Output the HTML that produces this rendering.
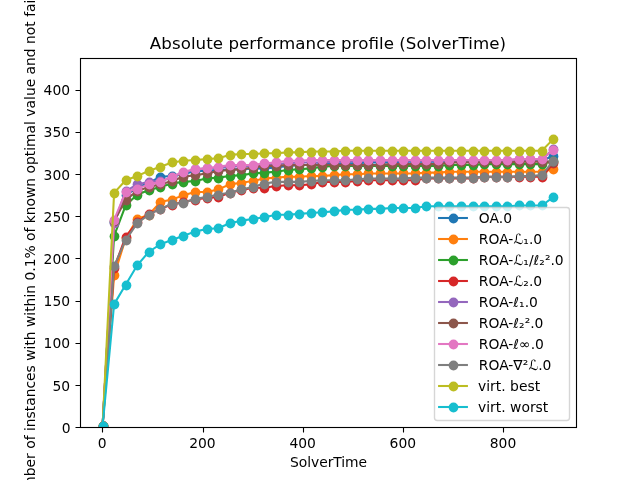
<!DOCTYPE html>
<html lang="en"><head><meta charset="utf-8"><title>Absolute performance profile (SolverTime)</title>
<style>html,body{margin:0;padding:0;background:#fff;overflow:hidden}svg{display:block}text{font-family:"DejaVu Sans","Liberation Sans",sans-serif;font-size:13.889px;fill:#000}.t{font-size:16.667px}.m{text-anchor:middle}.e{text-anchor:end}.ln{fill:none;stroke-width:2.0833;stroke-linejoin:round;stroke-linecap:square}.tk{stroke:#000;stroke-width:1.111;fill:none}</style></head><body>
<svg width="640" height="480" viewBox="0 0 640 480">
<rect x="0" y="0" width="640" height="480" fill="#fff"/>
<clipPath id="ax"><rect x="80.00" y="57.60" width="496.00" height="369.60"/></clipPath>
<g clip-path="url(#ax)">
<g fill="#1f77b4" stroke="#1f77b4"><polyline class="ln" points="102.55,426.36 114.11,222.34 125.67,195.36 137.23,187.77 148.79,182.71 160.35,176.81 171.92,175.97 183.48,174.28 195.04,170.91 206.60,170.91 218.16,170.06 229.72,169.22 241.29,169.22 252.85,168.38 264.41,168.38 275.97,167.54 287.53,165.85 299.10,165.01 310.66,165.01 322.22,164.16 333.78,164.16 345.34,163.32 356.90,163.32 368.47,162.48 380.03,162.48 391.59,162.48 403.15,161.63 414.71,161.63 426.28,161.63 437.84,161.63 449.40,161.63 460.96,161.63 472.52,161.63 484.08,161.63 495.65,161.63 507.21,161.63 518.77,160.79 530.33,160.79 541.89,160.79 553.45,155.73"/>
<g stroke="none"><circle cx="103.5" cy="426.5" r="4.880"/><circle cx="114.5" cy="222.5" r="4.880"/><circle cx="126.5" cy="195.5" r="4.880"/><circle cx="137.5" cy="188.5" r="4.880"/><circle cx="149.5" cy="183.5" r="4.880"/><circle cx="160.5" cy="177.5" r="4.880"/><circle cx="172.5" cy="176.5" r="4.880"/><circle cx="183.5" cy="174.5" r="4.880"/><circle cx="195.5" cy="171.5" r="4.880"/><circle cx="207.5" cy="171.5" r="4.880"/><circle cx="218.5" cy="170.5" r="4.880"/><circle cx="230.5" cy="169.5" r="4.880"/><circle cx="241.5" cy="169.5" r="4.880"/><circle cx="253.5" cy="168.5" r="4.880"/><circle cx="264.5" cy="168.5" r="4.880"/><circle cx="276.5" cy="168.5" r="4.880"/><circle cx="288.5" cy="166.5" r="4.880"/><circle cx="299.5" cy="165.5" r="4.880"/><circle cx="311.5" cy="165.5" r="4.880"/><circle cx="322.5" cy="164.5" r="4.880"/><circle cx="334.5" cy="164.5" r="4.880"/><circle cx="345.5" cy="163.5" r="4.880"/><circle cx="357.5" cy="163.5" r="4.880"/><circle cx="368.5" cy="162.5" r="4.880"/><circle cx="380.5" cy="162.5" r="4.880"/><circle cx="392.5" cy="162.5" r="4.880"/><circle cx="403.5" cy="162.5" r="4.880"/><circle cx="415.5" cy="162.5" r="4.880"/><circle cx="426.5" cy="162.5" r="4.880"/><circle cx="438.5" cy="162.5" r="4.880"/><circle cx="449.5" cy="162.5" r="4.880"/><circle cx="461.5" cy="162.5" r="4.880"/><circle cx="473.5" cy="162.5" r="4.880"/><circle cx="484.5" cy="162.5" r="4.880"/><circle cx="496.5" cy="162.5" r="4.880"/><circle cx="507.5" cy="162.5" r="4.880"/><circle cx="519.5" cy="161.5" r="4.880"/><circle cx="530.5" cy="161.5" r="4.880"/><circle cx="542.5" cy="161.5" r="4.880"/><circle cx="553.5" cy="156.5" r="4.880"/></g></g>
<g fill="#ff7f0e" stroke="#ff7f0e"><polyline class="ln" points="102.55,426.36 114.11,275.45 125.67,238.35 137.23,218.96 148.79,214.75 160.35,202.10 171.92,199.57 183.48,195.36 195.04,191.98 206.60,191.98 218.16,189.46 229.72,184.40 241.29,182.71 252.85,181.02 264.41,178.50 275.97,177.65 287.53,176.81 299.10,176.81 310.66,175.97 322.22,175.97 333.78,175.12 345.34,174.28 356.90,174.28 368.47,173.44 380.03,173.44 391.59,173.44 403.15,173.44 414.71,173.44 426.28,172.59 437.84,172.59 449.40,171.75 460.96,171.75 472.52,171.75 484.08,171.75 495.65,171.75 507.21,171.75 518.77,171.75 530.33,171.75 541.89,171.75 553.45,169.22"/>
<g stroke="none"><circle cx="103.5" cy="426.5" r="4.880"/><circle cx="114.5" cy="275.5" r="4.880"/><circle cx="126.5" cy="238.5" r="4.880"/><circle cx="137.5" cy="219.5" r="4.880"/><circle cx="149.5" cy="215.5" r="4.880"/><circle cx="160.5" cy="202.5" r="4.880"/><circle cx="172.5" cy="200.5" r="4.880"/><circle cx="183.5" cy="195.5" r="4.880"/><circle cx="195.5" cy="192.5" r="4.880"/><circle cx="207.5" cy="192.5" r="4.880"/><circle cx="218.5" cy="189.5" r="4.880"/><circle cx="230.5" cy="184.5" r="4.880"/><circle cx="241.5" cy="183.5" r="4.880"/><circle cx="253.5" cy="181.5" r="4.880"/><circle cx="264.5" cy="178.5" r="4.880"/><circle cx="276.5" cy="178.5" r="4.880"/><circle cx="288.5" cy="177.5" r="4.880"/><circle cx="299.5" cy="177.5" r="4.880"/><circle cx="311.5" cy="176.5" r="4.880"/><circle cx="322.5" cy="176.5" r="4.880"/><circle cx="334.5" cy="175.5" r="4.880"/><circle cx="345.5" cy="174.5" r="4.880"/><circle cx="357.5" cy="174.5" r="4.880"/><circle cx="368.5" cy="173.5" r="4.880"/><circle cx="380.5" cy="173.5" r="4.880"/><circle cx="392.5" cy="173.5" r="4.880"/><circle cx="403.5" cy="173.5" r="4.880"/><circle cx="415.5" cy="173.5" r="4.880"/><circle cx="426.5" cy="173.5" r="4.880"/><circle cx="438.5" cy="173.5" r="4.880"/><circle cx="449.5" cy="172.5" r="4.880"/><circle cx="461.5" cy="172.5" r="4.880"/><circle cx="473.5" cy="172.5" r="4.880"/><circle cx="484.5" cy="172.5" r="4.880"/><circle cx="496.5" cy="172.5" r="4.880"/><circle cx="507.5" cy="172.5" r="4.880"/><circle cx="519.5" cy="172.5" r="4.880"/><circle cx="530.5" cy="172.5" r="4.880"/><circle cx="542.5" cy="172.5" r="4.880"/><circle cx="553.5" cy="169.5" r="4.880"/></g></g>
<g fill="#2ca02c" stroke="#2ca02c"><polyline class="ln" points="102.55,426.36 114.11,235.82 125.67,205.47 137.23,194.51 148.79,190.30 160.35,186.93 171.92,183.55 183.48,181.87 195.04,181.02 206.60,178.50 218.16,177.65 229.72,175.97 241.29,175.12 252.85,173.44 264.41,172.59 275.97,171.75 287.53,170.06 299.10,169.22 310.66,168.38 322.22,166.69 333.78,165.85 345.34,165.85 356.90,165.85 368.47,165.85 380.03,165.85 391.59,165.85 403.15,165.85 414.71,165.85 426.28,165.85 437.84,165.85 449.40,165.01 460.96,165.01 472.52,165.01 484.08,164.16 495.65,164.16 507.21,164.16 518.77,164.16 530.33,164.16 541.89,164.16 553.45,160.79"/>
<g stroke="none"><circle cx="103.5" cy="426.5" r="4.880"/><circle cx="114.5" cy="236.5" r="4.880"/><circle cx="126.5" cy="205.5" r="4.880"/><circle cx="137.5" cy="195.5" r="4.880"/><circle cx="149.5" cy="190.5" r="4.880"/><circle cx="160.5" cy="187.5" r="4.880"/><circle cx="172.5" cy="184.5" r="4.880"/><circle cx="183.5" cy="182.5" r="4.880"/><circle cx="195.5" cy="181.5" r="4.880"/><circle cx="207.5" cy="178.5" r="4.880"/><circle cx="218.5" cy="178.5" r="4.880"/><circle cx="230.5" cy="176.5" r="4.880"/><circle cx="241.5" cy="175.5" r="4.880"/><circle cx="253.5" cy="173.5" r="4.880"/><circle cx="264.5" cy="173.5" r="4.880"/><circle cx="276.5" cy="172.5" r="4.880"/><circle cx="288.5" cy="170.5" r="4.880"/><circle cx="299.5" cy="169.5" r="4.880"/><circle cx="311.5" cy="168.5" r="4.880"/><circle cx="322.5" cy="167.5" r="4.880"/><circle cx="334.5" cy="166.5" r="4.880"/><circle cx="345.5" cy="166.5" r="4.880"/><circle cx="357.5" cy="166.5" r="4.880"/><circle cx="368.5" cy="166.5" r="4.880"/><circle cx="380.5" cy="166.5" r="4.880"/><circle cx="392.5" cy="166.5" r="4.880"/><circle cx="403.5" cy="166.5" r="4.880"/><circle cx="415.5" cy="166.5" r="4.880"/><circle cx="426.5" cy="166.5" r="4.880"/><circle cx="438.5" cy="166.5" r="4.880"/><circle cx="449.5" cy="165.5" r="4.880"/><circle cx="461.5" cy="165.5" r="4.880"/><circle cx="473.5" cy="165.5" r="4.880"/><circle cx="484.5" cy="164.5" r="4.880"/><circle cx="496.5" cy="164.5" r="4.880"/><circle cx="507.5" cy="164.5" r="4.880"/><circle cx="519.5" cy="164.5" r="4.880"/><circle cx="530.5" cy="164.5" r="4.880"/><circle cx="542.5" cy="164.5" r="4.880"/><circle cx="553.5" cy="161.5" r="4.880"/></g></g>
<g fill="#d62728" stroke="#d62728"><polyline class="ln" points="102.55,426.36 114.11,267.86 125.67,236.67 137.23,222.34 148.79,213.90 160.35,208.85 171.92,204.63 183.48,202.10 195.04,199.57 206.60,197.89 218.16,197.04 229.72,192.83 241.29,190.30 252.85,187.77 264.41,187.77 275.97,186.08 287.53,185.24 299.10,185.24 310.66,184.40 322.22,181.87 333.78,181.87 345.34,181.87 356.90,181.02 368.47,180.18 380.03,180.18 391.59,180.18 403.15,180.18 414.71,180.18 426.28,178.50 437.84,178.50 449.40,178.50 460.96,178.50 472.52,178.50 484.08,176.81 495.65,176.81 507.21,176.81 518.77,176.81 530.33,176.81 541.89,176.81 553.45,163.32"/>
<g stroke="none"><circle cx="103.5" cy="426.5" r="4.880"/><circle cx="114.5" cy="268.5" r="4.880"/><circle cx="126.5" cy="237.5" r="4.880"/><circle cx="137.5" cy="222.5" r="4.880"/><circle cx="149.5" cy="214.5" r="4.880"/><circle cx="160.5" cy="209.5" r="4.880"/><circle cx="172.5" cy="205.5" r="4.880"/><circle cx="183.5" cy="202.5" r="4.880"/><circle cx="195.5" cy="200.5" r="4.880"/><circle cx="207.5" cy="198.5" r="4.880"/><circle cx="218.5" cy="197.5" r="4.880"/><circle cx="230.5" cy="193.5" r="4.880"/><circle cx="241.5" cy="190.5" r="4.880"/><circle cx="253.5" cy="188.5" r="4.880"/><circle cx="264.5" cy="188.5" r="4.880"/><circle cx="276.5" cy="186.5" r="4.880"/><circle cx="288.5" cy="185.5" r="4.880"/><circle cx="299.5" cy="185.5" r="4.880"/><circle cx="311.5" cy="184.5" r="4.880"/><circle cx="322.5" cy="182.5" r="4.880"/><circle cx="334.5" cy="182.5" r="4.880"/><circle cx="345.5" cy="182.5" r="4.880"/><circle cx="357.5" cy="181.5" r="4.880"/><circle cx="368.5" cy="180.5" r="4.880"/><circle cx="380.5" cy="180.5" r="4.880"/><circle cx="392.5" cy="180.5" r="4.880"/><circle cx="403.5" cy="180.5" r="4.880"/><circle cx="415.5" cy="180.5" r="4.880"/><circle cx="426.5" cy="178.5" r="4.880"/><circle cx="438.5" cy="178.5" r="4.880"/><circle cx="449.5" cy="178.5" r="4.880"/><circle cx="461.5" cy="178.5" r="4.880"/><circle cx="473.5" cy="178.5" r="4.880"/><circle cx="484.5" cy="177.5" r="4.880"/><circle cx="496.5" cy="177.5" r="4.880"/><circle cx="507.5" cy="177.5" r="4.880"/><circle cx="519.5" cy="177.5" r="4.880"/><circle cx="530.5" cy="177.5" r="4.880"/><circle cx="542.5" cy="177.5" r="4.880"/><circle cx="553.5" cy="163.5" r="4.880"/></g></g>
<g fill="#9467bd" stroke="#9467bd"><polyline class="ln" points="102.55,426.36 114.11,223.18 125.67,191.14 137.23,184.40 148.79,181.87 160.35,181.02 171.92,177.65 183.48,172.59 195.04,169.22 206.60,168.38 218.16,167.54 229.72,166.69 241.29,165.85 252.85,165.85 264.41,164.16 275.97,164.16 287.53,163.32 299.10,162.48 310.66,162.48 322.22,162.48 333.78,161.63 345.34,161.63 356.90,160.79 368.47,160.79 380.03,160.79 391.59,160.79 403.15,160.79 414.71,160.79 426.28,160.79 437.84,160.79 449.40,160.79 460.96,160.79 472.52,160.79 484.08,160.79 495.65,160.79 507.21,160.79 518.77,159.11 530.33,159.11 541.89,159.11 553.45,148.99"/>
<g stroke="none"><circle cx="103.5" cy="426.5" r="4.880"/><circle cx="114.5" cy="223.5" r="4.880"/><circle cx="126.5" cy="191.5" r="4.880"/><circle cx="137.5" cy="184.5" r="4.880"/><circle cx="149.5" cy="182.5" r="4.880"/><circle cx="160.5" cy="181.5" r="4.880"/><circle cx="172.5" cy="178.5" r="4.880"/><circle cx="183.5" cy="173.5" r="4.880"/><circle cx="195.5" cy="169.5" r="4.880"/><circle cx="207.5" cy="168.5" r="4.880"/><circle cx="218.5" cy="168.5" r="4.880"/><circle cx="230.5" cy="167.5" r="4.880"/><circle cx="241.5" cy="166.5" r="4.880"/><circle cx="253.5" cy="166.5" r="4.880"/><circle cx="264.5" cy="164.5" r="4.880"/><circle cx="276.5" cy="164.5" r="4.880"/><circle cx="288.5" cy="163.5" r="4.880"/><circle cx="299.5" cy="162.5" r="4.880"/><circle cx="311.5" cy="162.5" r="4.880"/><circle cx="322.5" cy="162.5" r="4.880"/><circle cx="334.5" cy="162.5" r="4.880"/><circle cx="345.5" cy="162.5" r="4.880"/><circle cx="357.5" cy="161.5" r="4.880"/><circle cx="368.5" cy="161.5" r="4.880"/><circle cx="380.5" cy="161.5" r="4.880"/><circle cx="392.5" cy="161.5" r="4.880"/><circle cx="403.5" cy="161.5" r="4.880"/><circle cx="415.5" cy="161.5" r="4.880"/><circle cx="426.5" cy="161.5" r="4.880"/><circle cx="438.5" cy="161.5" r="4.880"/><circle cx="449.5" cy="161.5" r="4.880"/><circle cx="461.5" cy="161.5" r="4.880"/><circle cx="473.5" cy="161.5" r="4.880"/><circle cx="484.5" cy="161.5" r="4.880"/><circle cx="496.5" cy="161.5" r="4.880"/><circle cx="507.5" cy="161.5" r="4.880"/><circle cx="519.5" cy="159.5" r="4.880"/><circle cx="530.5" cy="159.5" r="4.880"/><circle cx="542.5" cy="159.5" r="4.880"/><circle cx="553.5" cy="149.5" r="4.880"/></g></g>
<g fill="#8c564b" stroke="#8c564b"><polyline class="ln" points="102.55,426.36 114.11,221.49 125.67,199.57 137.23,191.14 148.79,186.93 160.35,184.40 171.92,181.02 183.48,176.81 195.04,175.12 206.60,173.44 218.16,170.91 229.72,170.06 241.29,169.22 252.85,167.54 264.41,165.85 275.97,165.85 287.53,165.01 299.10,165.01 310.66,165.01 322.22,165.01 333.78,165.01 345.34,165.01 356.90,165.01 368.47,165.01 380.03,165.01 391.59,164.16 403.15,164.16 414.71,164.16 426.28,164.16 437.84,164.16 449.40,162.48 460.96,162.48 472.52,162.48 484.08,162.48 495.65,162.48 507.21,162.48 518.77,161.63 530.33,161.63 541.89,161.63 553.45,161.63"/>
<g stroke="none"><circle cx="103.5" cy="426.5" r="4.880"/><circle cx="114.5" cy="221.5" r="4.880"/><circle cx="126.5" cy="200.5" r="4.880"/><circle cx="137.5" cy="191.5" r="4.880"/><circle cx="149.5" cy="187.5" r="4.880"/><circle cx="160.5" cy="184.5" r="4.880"/><circle cx="172.5" cy="181.5" r="4.880"/><circle cx="183.5" cy="177.5" r="4.880"/><circle cx="195.5" cy="175.5" r="4.880"/><circle cx="207.5" cy="173.5" r="4.880"/><circle cx="218.5" cy="171.5" r="4.880"/><circle cx="230.5" cy="170.5" r="4.880"/><circle cx="241.5" cy="169.5" r="4.880"/><circle cx="253.5" cy="168.5" r="4.880"/><circle cx="264.5" cy="166.5" r="4.880"/><circle cx="276.5" cy="166.5" r="4.880"/><circle cx="288.5" cy="165.5" r="4.880"/><circle cx="299.5" cy="165.5" r="4.880"/><circle cx="311.5" cy="165.5" r="4.880"/><circle cx="322.5" cy="165.5" r="4.880"/><circle cx="334.5" cy="165.5" r="4.880"/><circle cx="345.5" cy="165.5" r="4.880"/><circle cx="357.5" cy="165.5" r="4.880"/><circle cx="368.5" cy="165.5" r="4.880"/><circle cx="380.5" cy="165.5" r="4.880"/><circle cx="392.5" cy="164.5" r="4.880"/><circle cx="403.5" cy="164.5" r="4.880"/><circle cx="415.5" cy="164.5" r="4.880"/><circle cx="426.5" cy="164.5" r="4.880"/><circle cx="438.5" cy="164.5" r="4.880"/><circle cx="449.5" cy="162.5" r="4.880"/><circle cx="461.5" cy="162.5" r="4.880"/><circle cx="473.5" cy="162.5" r="4.880"/><circle cx="484.5" cy="162.5" r="4.880"/><circle cx="496.5" cy="162.5" r="4.880"/><circle cx="507.5" cy="162.5" r="4.880"/><circle cx="519.5" cy="162.5" r="4.880"/><circle cx="530.5" cy="162.5" r="4.880"/><circle cx="542.5" cy="162.5" r="4.880"/><circle cx="553.5" cy="162.5" r="4.880"/></g></g>
<g fill="#e377c2" stroke="#e377c2"><polyline class="ln" points="102.55,426.36 114.11,219.81 125.67,191.98 137.23,188.61 148.79,184.40 160.35,181.87 171.92,176.81 183.48,171.75 195.04,169.22 206.60,168.38 218.16,166.69 229.72,165.01 241.29,165.01 252.85,165.01 264.41,163.32 275.97,162.48 287.53,160.79 299.10,160.79 310.66,159.95 322.22,159.95 333.78,159.95 345.34,159.95 356.90,159.95 368.47,159.95 380.03,159.95 391.59,159.95 403.15,159.95 414.71,159.95 426.28,159.95 437.84,159.95 449.40,159.95 460.96,159.95 472.52,159.95 484.08,159.95 495.65,159.95 507.21,159.95 518.77,159.11 530.33,159.11 541.89,159.11 553.45,149.83"/>
<g stroke="none"><circle cx="103.5" cy="426.5" r="4.880"/><circle cx="114.5" cy="220.5" r="4.880"/><circle cx="126.5" cy="192.5" r="4.880"/><circle cx="137.5" cy="189.5" r="4.880"/><circle cx="149.5" cy="184.5" r="4.880"/><circle cx="160.5" cy="182.5" r="4.880"/><circle cx="172.5" cy="177.5" r="4.880"/><circle cx="183.5" cy="172.5" r="4.880"/><circle cx="195.5" cy="169.5" r="4.880"/><circle cx="207.5" cy="168.5" r="4.880"/><circle cx="218.5" cy="167.5" r="4.880"/><circle cx="230.5" cy="165.5" r="4.880"/><circle cx="241.5" cy="165.5" r="4.880"/><circle cx="253.5" cy="165.5" r="4.880"/><circle cx="264.5" cy="163.5" r="4.880"/><circle cx="276.5" cy="162.5" r="4.880"/><circle cx="288.5" cy="161.5" r="4.880"/><circle cx="299.5" cy="161.5" r="4.880"/><circle cx="311.5" cy="160.5" r="4.880"/><circle cx="322.5" cy="160.5" r="4.880"/><circle cx="334.5" cy="160.5" r="4.880"/><circle cx="345.5" cy="160.5" r="4.880"/><circle cx="357.5" cy="160.5" r="4.880"/><circle cx="368.5" cy="160.5" r="4.880"/><circle cx="380.5" cy="160.5" r="4.880"/><circle cx="392.5" cy="160.5" r="4.880"/><circle cx="403.5" cy="160.5" r="4.880"/><circle cx="415.5" cy="160.5" r="4.880"/><circle cx="426.5" cy="160.5" r="4.880"/><circle cx="438.5" cy="160.5" r="4.880"/><circle cx="449.5" cy="160.5" r="4.880"/><circle cx="461.5" cy="160.5" r="4.880"/><circle cx="473.5" cy="160.5" r="4.880"/><circle cx="484.5" cy="160.5" r="4.880"/><circle cx="496.5" cy="160.5" r="4.880"/><circle cx="507.5" cy="160.5" r="4.880"/><circle cx="519.5" cy="159.5" r="4.880"/><circle cx="530.5" cy="159.5" r="4.880"/><circle cx="542.5" cy="159.5" r="4.880"/><circle cx="553.5" cy="150.5" r="4.880"/></g></g>
<g fill="#7f7f7f" stroke="#7f7f7f"><polyline class="ln" points="102.55,426.36 114.11,266.17 125.67,240.04 137.23,223.18 148.79,214.75 160.35,208.85 171.92,203.79 183.48,202.94 195.04,198.73 206.60,197.04 218.16,194.51 229.72,192.83 241.29,189.46 252.85,186.93 264.41,183.55 275.97,181.87 287.53,181.87 299.10,181.87 310.66,181.02 322.22,180.18 333.78,180.18 345.34,180.18 356.90,179.34 368.47,178.50 380.03,178.50 391.59,178.50 403.15,178.50 414.71,177.65 426.28,177.65 437.84,177.65 449.40,177.65 460.96,177.65 472.52,177.65 484.08,176.81 495.65,176.81 507.21,176.81 518.77,175.97 530.33,175.97 541.89,175.12 553.45,160.79"/>
<g stroke="none"><circle cx="103.5" cy="426.5" r="4.880"/><circle cx="114.5" cy="266.5" r="4.880"/><circle cx="126.5" cy="240.5" r="4.880"/><circle cx="137.5" cy="223.5" r="4.880"/><circle cx="149.5" cy="215.5" r="4.880"/><circle cx="160.5" cy="209.5" r="4.880"/><circle cx="172.5" cy="204.5" r="4.880"/><circle cx="183.5" cy="203.5" r="4.880"/><circle cx="195.5" cy="199.5" r="4.880"/><circle cx="207.5" cy="197.5" r="4.880"/><circle cx="218.5" cy="195.5" r="4.880"/><circle cx="230.5" cy="193.5" r="4.880"/><circle cx="241.5" cy="189.5" r="4.880"/><circle cx="253.5" cy="187.5" r="4.880"/><circle cx="264.5" cy="184.5" r="4.880"/><circle cx="276.5" cy="182.5" r="4.880"/><circle cx="288.5" cy="182.5" r="4.880"/><circle cx="299.5" cy="182.5" r="4.880"/><circle cx="311.5" cy="181.5" r="4.880"/><circle cx="322.5" cy="180.5" r="4.880"/><circle cx="334.5" cy="180.5" r="4.880"/><circle cx="345.5" cy="180.5" r="4.880"/><circle cx="357.5" cy="179.5" r="4.880"/><circle cx="368.5" cy="178.5" r="4.880"/><circle cx="380.5" cy="178.5" r="4.880"/><circle cx="392.5" cy="178.5" r="4.880"/><circle cx="403.5" cy="178.5" r="4.880"/><circle cx="415.5" cy="178.5" r="4.880"/><circle cx="426.5" cy="178.5" r="4.880"/><circle cx="438.5" cy="178.5" r="4.880"/><circle cx="449.5" cy="178.5" r="4.880"/><circle cx="461.5" cy="178.5" r="4.880"/><circle cx="473.5" cy="178.5" r="4.880"/><circle cx="484.5" cy="177.5" r="4.880"/><circle cx="496.5" cy="177.5" r="4.880"/><circle cx="507.5" cy="177.5" r="4.880"/><circle cx="519.5" cy="176.5" r="4.880"/><circle cx="530.5" cy="176.5" r="4.880"/><circle cx="542.5" cy="175.5" r="4.880"/><circle cx="553.5" cy="161.5" r="4.880"/></g></g>
<g fill="#bcbd22" stroke="#bcbd22"><polyline class="ln" points="102.55,426.36 114.11,192.83 125.67,180.18 137.23,175.97 148.79,170.91 160.35,166.69 171.92,162.48 183.48,160.79 195.04,159.95 206.60,159.11 218.16,158.26 229.72,154.89 241.29,154.05 252.85,154.05 264.41,153.20 275.97,153.20 287.53,152.36 299.10,152.36 310.66,151.52 322.22,151.52 333.78,151.52 345.34,150.67 356.90,150.67 368.47,150.67 380.03,150.67 391.59,150.67 403.15,150.67 414.71,150.67 426.28,150.67 437.84,150.67 449.40,150.67 460.96,150.67 472.52,150.67 484.08,150.67 495.65,150.67 507.21,150.67 518.77,150.67 530.33,150.67 541.89,150.67 553.45,138.87"/>
<g stroke="none"><circle cx="103.5" cy="426.5" r="4.880"/><circle cx="114.5" cy="193.5" r="4.880"/><circle cx="126.5" cy="180.5" r="4.880"/><circle cx="137.5" cy="176.5" r="4.880"/><circle cx="149.5" cy="171.5" r="4.880"/><circle cx="160.5" cy="167.5" r="4.880"/><circle cx="172.5" cy="162.5" r="4.880"/><circle cx="183.5" cy="161.5" r="4.880"/><circle cx="195.5" cy="160.5" r="4.880"/><circle cx="207.5" cy="159.5" r="4.880"/><circle cx="218.5" cy="158.5" r="4.880"/><circle cx="230.5" cy="155.5" r="4.880"/><circle cx="241.5" cy="154.5" r="4.880"/><circle cx="253.5" cy="154.5" r="4.880"/><circle cx="264.5" cy="153.5" r="4.880"/><circle cx="276.5" cy="153.5" r="4.880"/><circle cx="288.5" cy="152.5" r="4.880"/><circle cx="299.5" cy="152.5" r="4.880"/><circle cx="311.5" cy="152.5" r="4.880"/><circle cx="322.5" cy="152.5" r="4.880"/><circle cx="334.5" cy="152.5" r="4.880"/><circle cx="345.5" cy="151.5" r="4.880"/><circle cx="357.5" cy="151.5" r="4.880"/><circle cx="368.5" cy="151.5" r="4.880"/><circle cx="380.5" cy="151.5" r="4.880"/><circle cx="392.5" cy="151.5" r="4.880"/><circle cx="403.5" cy="151.5" r="4.880"/><circle cx="415.5" cy="151.5" r="4.880"/><circle cx="426.5" cy="151.5" r="4.880"/><circle cx="438.5" cy="151.5" r="4.880"/><circle cx="449.5" cy="151.5" r="4.880"/><circle cx="461.5" cy="151.5" r="4.880"/><circle cx="473.5" cy="151.5" r="4.880"/><circle cx="484.5" cy="151.5" r="4.880"/><circle cx="496.5" cy="151.5" r="4.880"/><circle cx="507.5" cy="151.5" r="4.880"/><circle cx="519.5" cy="151.5" r="4.880"/><circle cx="530.5" cy="151.5" r="4.880"/><circle cx="542.5" cy="151.5" r="4.880"/><circle cx="553.5" cy="139.5" r="4.880"/></g></g>
<g fill="#17becf" stroke="#17becf"><polyline class="ln" points="102.55,426.36 114.11,304.11 125.67,284.72 137.23,265.33 148.79,251.84 160.35,244.25 171.92,240.04 183.48,235.82 195.04,231.61 206.60,229.08 218.16,228.24 229.72,223.18 241.29,220.65 252.85,218.96 264.41,217.28 275.97,214.75 287.53,214.75 299.10,213.90 310.66,213.06 322.22,212.22 333.78,211.38 345.34,209.69 356.90,209.69 368.47,208.85 380.03,208.85 391.59,208.00 403.15,208.00 414.71,208.00 426.28,206.32 437.84,206.32 449.40,206.32 460.96,206.32 472.52,206.32 484.08,206.32 495.65,206.32 507.21,206.32 518.77,205.47 530.33,205.47 541.89,205.47 553.45,197.04"/>
<g stroke="none"><circle cx="103.5" cy="426.5" r="4.880"/><circle cx="114.5" cy="304.5" r="4.880"/><circle cx="126.5" cy="285.5" r="4.880"/><circle cx="137.5" cy="265.5" r="4.880"/><circle cx="149.5" cy="252.5" r="4.880"/><circle cx="160.5" cy="244.5" r="4.880"/><circle cx="172.5" cy="240.5" r="4.880"/><circle cx="183.5" cy="236.5" r="4.880"/><circle cx="195.5" cy="232.5" r="4.880"/><circle cx="207.5" cy="229.5" r="4.880"/><circle cx="218.5" cy="228.5" r="4.880"/><circle cx="230.5" cy="223.5" r="4.880"/><circle cx="241.5" cy="221.5" r="4.880"/><circle cx="253.5" cy="219.5" r="4.880"/><circle cx="264.5" cy="217.5" r="4.880"/><circle cx="276.5" cy="215.5" r="4.880"/><circle cx="288.5" cy="215.5" r="4.880"/><circle cx="299.5" cy="214.5" r="4.880"/><circle cx="311.5" cy="213.5" r="4.880"/><circle cx="322.5" cy="212.5" r="4.880"/><circle cx="334.5" cy="211.5" r="4.880"/><circle cx="345.5" cy="210.5" r="4.880"/><circle cx="357.5" cy="210.5" r="4.880"/><circle cx="368.5" cy="209.5" r="4.880"/><circle cx="380.5" cy="209.5" r="4.880"/><circle cx="392.5" cy="208.5" r="4.880"/><circle cx="403.5" cy="208.5" r="4.880"/><circle cx="415.5" cy="208.5" r="4.880"/><circle cx="426.5" cy="206.5" r="4.880"/><circle cx="438.5" cy="206.5" r="4.880"/><circle cx="449.5" cy="206.5" r="4.880"/><circle cx="461.5" cy="206.5" r="4.880"/><circle cx="473.5" cy="206.5" r="4.880"/><circle cx="484.5" cy="206.5" r="4.880"/><circle cx="496.5" cy="206.5" r="4.880"/><circle cx="507.5" cy="206.5" r="4.880"/><circle cx="519.5" cy="205.5" r="4.880"/><circle cx="530.5" cy="205.5" r="4.880"/><circle cx="542.5" cy="205.5" r="4.880"/><circle cx="553.5" cy="197.5" r="4.880"/></g></g>
</g>
<path class="tk" d="M102.5 427.5v5M203.5 427.5v5M303.5 427.5v5M403.5 427.5v5M503.5 427.5v5M80.5 427.5h-5M80.5 385.5h-5M80.5 343.5h-5M80.5 301.5h-5M80.5 258.5h-5M80.5 216.5h-5M80.5 174.5h-5M80.5 132.5h-5M80.5 90.5h-5"/>
<rect class="tk" x="80.5" y="58.5" width="496" height="369"/>
<text class="m" x="102.25" y="447.50">0</text>
<text class="m" x="202.45" y="447.50">200</text>
<text class="m" x="302.65" y="447.50">400</text>
<text class="m" x="402.85" y="447.50">600</text>
<text class="m" x="503.05" y="447.50">800</text>
<text class="e" x="70.68" y="433.48">0</text>
<text class="e" x="70.08" y="391.23">50</text>
<text class="e" x="70.08" y="348.17">100</text>
<text class="e" x="70.08" y="306.02">150</text>
<text class="e" x="70.08" y="263.87">200</text>
<text class="e" x="70.08" y="222.21">250</text>
<text class="e" x="70.08" y="180.06">300</text>
<text class="e" x="70.08" y="137.41">350</text>
<text class="e" x="70.08" y="95.25">400</text>
<text class="m" x="328.60" y="467.40" textLength="77.00">SolverTime</text>
<text class="m" transform="translate(34.60 243.70) rotate(-90)" x="0" y="0" textLength="530.50">Number of instances with within 0.1% of known optimal value and not failed</text>
<text class="m t" x="327.93" y="49.27" textLength="356.15">Absolute performance profile (SolverTime)</text>
<rect x="434.5" y="207.5" width="135" height="213" rx="2.78" ry="2.78" fill="#fff" fill-opacity="0.8" stroke="#ccc" stroke-opacity="0.8" stroke-width="1.389"/>
<g fill="#1f77b4" stroke="#1f77b4"><path class="ln" d="M439.11 218H466.89"/><circle stroke="none" cx="453.5" cy="218.5" r="4.880"/></g>
<text x="478.85" y="223.20">OA.0</text>
<g fill="#ff7f0e" stroke="#ff7f0e"><path class="ln" d="M439.11 239H466.89"/><circle stroke="none" cx="453.5" cy="239.5" r="4.880"/></g>
<text x="478.85" y="244.14">ROA-ℒ₁.0</text>
<g fill="#2ca02c" stroke="#2ca02c"><path class="ln" d="M439.11 260H466.89"/><circle stroke="none" cx="453.5" cy="260.5" r="4.880"/></g>
<text x="478.85" y="265.09">ROA-ℒ₁/ℓ₂².0</text>
<g fill="#d62728" stroke="#d62728"><path class="ln" d="M439.11 281H466.89"/><circle stroke="none" cx="453.5" cy="281.5" r="4.880"/></g>
<text x="478.85" y="286.03">ROA-ℒ₂.0</text>
<g fill="#9467bd" stroke="#9467bd"><path class="ln" d="M439.11 302H466.89"/><circle stroke="none" cx="453.5" cy="302.5" r="4.880"/></g>
<text x="478.85" y="306.98">ROA-ℓ₁.0</text>
<g fill="#8c564b" stroke="#8c564b"><path class="ln" d="M439.11 323H466.89"/><circle stroke="none" cx="453.5" cy="323.5" r="4.880"/></g>
<text x="478.85" y="327.92">ROA-ℓ₂².0</text>
<g fill="#e377c2" stroke="#e377c2"><path class="ln" d="M439.11 344H466.89"/><circle stroke="none" cx="453.5" cy="344.5" r="4.880"/></g>
<text x="478.85" y="348.86">ROA-ℓ∞.0</text>
<g fill="#7f7f7f" stroke="#7f7f7f"><path class="ln" d="M439.11 365H466.89"/><circle stroke="none" cx="453.5" cy="365.5" r="4.880"/></g>
<text x="478.85" y="369.81">ROA-∇²ℒ.0</text>
<g fill="#bcbd22" stroke="#bcbd22"><path class="ln" d="M439.11 386H466.89"/><circle stroke="none" cx="453.5" cy="386.5" r="4.880"/></g>
<text x="478.05" y="390.75">virt. best</text>
<g fill="#17becf" stroke="#17becf"><path class="ln" d="M439.11 407H466.89"/><circle stroke="none" cx="453.5" cy="407.5" r="4.880"/></g>
<text x="478.05" y="411.70">virt. worst</text>
</svg></body></html>
